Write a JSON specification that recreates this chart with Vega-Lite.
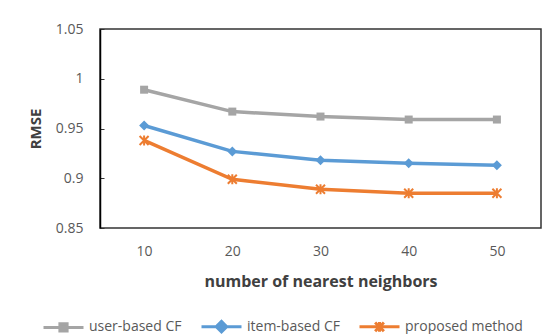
{
  "$schema": "https://vega.github.io/schema/vega-lite/v6.json",
  "autosize": "none",
  "width": 441,
  "height": 199,
  "padding": {"left": 100, "top": 29, "right": 19, "bottom": 106},
  "background": "white",
  "config": {
    "font": "Open Sans",
    "view": {"stroke": "#333333", "strokeWidth": 1.5}
  },
  "data": {
    "values": [
      {"k": "10", "series": "user-based CF", "rmse": 0.989},
      {"k": "20", "series": "user-based CF", "rmse": 0.967},
      {"k": "30", "series": "user-based CF", "rmse": 0.962},
      {"k": "40", "series": "user-based CF", "rmse": 0.959},
      {"k": "50", "series": "user-based CF", "rmse": 0.959},
      {"k": "10", "series": "item-based CF", "rmse": 0.953},
      {"k": "20", "series": "item-based CF", "rmse": 0.927},
      {"k": "30", "series": "item-based CF", "rmse": 0.918},
      {"k": "40", "series": "item-based CF", "rmse": 0.915},
      {"k": "50", "series": "item-based CF", "rmse": 0.913},
      {"k": "10", "series": "proposed method", "rmse": 0.938},
      {"k": "20", "series": "proposed method", "rmse": 0.899},
      {"k": "30", "series": "proposed method", "rmse": 0.889},
      {"k": "40", "series": "proposed method", "rmse": 0.885},
      {"k": "50", "series": "proposed method", "rmse": 0.885}
    ]
  },
  "encoding": {
    "x": {
      "field": "k", "type": "ordinal", "sort": null,
      "scale": {"type": "point", "padding": 0.5},
      "axis": {
        "title": "number of nearest neighbors", "titleFontSize": 16, "titleFontWeight": "bold", "titleColor": "#404040", "titlePadding": 15,
        "labelAngle": 0, "labelFontSize": 14, "labelColor": "#595959", "labelPadding": 16,
        "ticks": false, "domain": false
      }
    },
    "y": {
      "field": "rmse", "type": "quantitative",
      "scale": {"domain": [0.85, 1.05], "nice": false, "zero": false},
      "axis": {
        "title": "RMSE", "titleFontSize": 15, "titleFontWeight": "bold", "titleColor": "#404040", "titlePadding": 12,
        "values": [0.85, 0.9, 0.95, 1, 1.05], "format": "~g",
        "labelFontSize": 14, "labelColor": "#595959", "labelPadding": 21,
        "grid": false, "domainColor": "#000000", "domainWidth": 1.5,
        "tickSize": -4, "tickColor": "#333333", "tickWidth": 1
      }
    },
    "color": {
      "field": "series", "type": "nominal",
      "sort": ["user-based CF", "item-based CF", "proposed method"],
      "scale": {"domain": ["user-based CF", "item-based CF", "proposed method"], "range": ["#A5A5A5", "#5B9BD5", "#ED7D31"]},
      "legend": {
        "orient": "none", "legendX": -58, "legendY": 276, "direction": "horizontal", "title": null,
        "labelFontSize": 14, "labelColor": "#595959", "labelOffset": 4,
        "symbolSize": 1600, "symbolStrokeWidth": 3, "columnPadding": 13,
        "encode": {
          "symbols": {
            "update": {
              "shape": {"signal": "datum.value == 'user-based CF' ? 'M-1,0L1,0M-0.18,-0.18L0.18,-0.18L0.18,0.18L-0.18,0.18Z' : datum.value == 'item-based CF' ? 'M-1,0L1,0M-0.26,0L0,-0.26L0.26,0L0,0.26Z' : 'M-1,0L1,0M-0.22,-0.22L0.22,0.22M-0.22,0.22L0.22,-0.22M0,-0.24L0,0.24'"},
              "fill": {"scale": "color", "field": "value"},
              "stroke": {"scale": "color", "field": "value"},
              "strokeWidth": {"value": 3},
              "opacity": {"value": 1}
            }
          }
        }
      }
    }
  },
  "layer": [
    {
      "mark": {"type": "line", "strokeWidth": 3.5}
    },
    {
      "transform": [{"filter": "datum.series == 'user-based CF'"}],
      "mark": {"type": "point", "shape": "square", "filled": true, "opacity": 1, "size": 64, "strokeWidth": 1}
    },
    {
      "transform": [{"filter": "datum.series == 'item-based CF'"}],
      "mark": {"type": "point", "shape": "diamond", "filled": true, "opacity": 1, "size": 100, "strokeWidth": 1}
    },
    {
      "transform": [{"filter": "datum.series == 'proposed method'"}],
      "mark": {"type": "point", "shape": "M-1,-1L1,1M-1,1L1,-1M0,-1.1L0,1.1", "filled": false, "opacity": 1, "size": 81, "strokeWidth": 2}
    }
  ]
}
